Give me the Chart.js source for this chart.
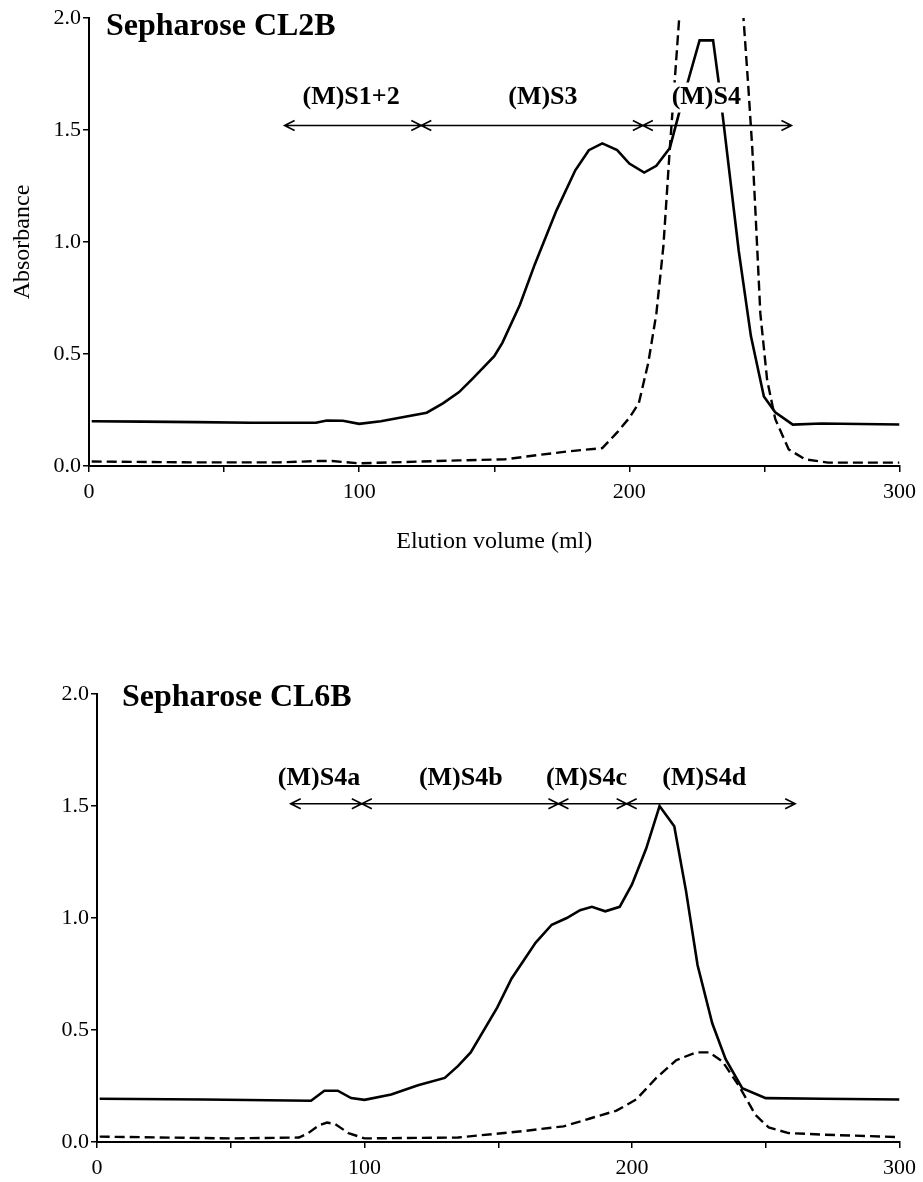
<!DOCTYPE html>
<html>
<head>
<meta charset="utf-8">
<script src="https://cdn.jsdelivr.net/npm/chart.js@4.4.1/dist/chart.umd.min.js"></script>
<style>
  body { margin: 0; background: #fff; }
  .panel { position: absolute; left: 0; }
</style>
</head>
<body>
<div class="panel" style="top:0"><canvas id="cl2bChart" width="923" height="560"></canvas></div>
<div class="panel" style="top:676px"><canvas id="cl6bChart" width="923" height="506"></canvas></div>
<script>
// Sepharose CL2B - elution volume (ml) / absorbance
const cl2bSolidVol = [1, 20, 40, 60, 84, 88, 94, 100, 108, 115, 125, 131, 137, 142, 150, 153, 159.5, 165, 173, 180, 185, 190, 195.5, 200, 205.5, 210, 215, 218.5, 222, 226, 231, 233, 234.5, 240.5, 245, 249.8, 254, 260.5, 271, 300];
const cl2bSolidAbs = [0.200, 0.198, 0.196, 0.193, 0.193, 0.203, 0.202, 0.188, 0.200, 0.215, 0.238, 0.28, 0.33, 0.39, 0.49, 0.55, 0.72, 0.90, 1.14, 1.32, 1.41, 1.44, 1.41, 1.35, 1.31, 1.34, 1.42, 1.58, 1.73, 1.90, 1.90, 1.72, 1.57, 0.96, 0.58, 0.31, 0.24, 0.185, 0.19, 0.185];
const cl2bDashVol = [1, 40, 70, 85, 90, 100, 137, 154, 167, 177, 190, 195.5, 200, 203.5, 207, 210, 212.6, 215, 216.8, 218.4, 220.2, 240.5, 244, 245.5, 246.7, 248.5, 251, 254, 259, 265, 273.5, 300];
const cl2bDashAbs = [0.02, 0.016, 0.016, 0.022, 0.022, 0.012, 0.025, 0.03, 0.05, 0.065, 0.08, 0.15, 0.215, 0.28, 0.46, 0.68, 0.98, 1.42, 1.72, 1.99, 2.3, 2.3, 1.70, 1.42, 1.13, 0.68, 0.385, 0.21, 0.074, 0.03, 0.015, 0.015];
const cl2bFractions = ['(M)S1+2', '(M)S3', '(M)S4'];
const cl2bBounds = [72.4, 123, 205, 260];
const cl2bLabelAt = [97, 168, 228.5];

// Sepharose CL6B
const cl6bSolidVol = [1, 40, 80, 85, 90, 95, 100, 110, 120, 130, 135, 139.7, 149.6, 155, 164, 170, 175.6, 180.6, 185, 190, 195.4, 200, 205.3, 210.3, 215.8, 220.2, 224.5, 230, 235, 241.2, 250, 271, 300];
const cl6bSolidAbs = [0.193, 0.19, 0.184, 0.229, 0.229, 0.196, 0.188, 0.212, 0.253, 0.286, 0.34, 0.40, 0.60, 0.73, 0.89, 0.97, 1.00, 1.035, 1.05, 1.03, 1.05, 1.15, 1.31, 1.50, 1.41, 1.12, 0.79, 0.53, 0.37, 0.24, 0.196, 0.193, 0.19];
const cl6bDashVol = [1, 50, 75.5, 79, 83, 86, 89, 94, 100, 135, 159.5, 174.4, 184.3, 194.2, 201.6, 209, 216.5, 223.9, 228.8, 233.8, 240, 246.2, 251.1, 258.5, 271, 300];
const cl6bDashAbs = [0.024, 0.016, 0.02, 0.04, 0.075, 0.087, 0.08, 0.04, 0.016, 0.02, 0.049, 0.07, 0.105, 0.14, 0.19, 0.285, 0.365, 0.40, 0.40, 0.36, 0.25, 0.12, 0.065, 0.04, 0.033, 0.022];
const cl6bFractions = ['(M)S4a', '(M)S4b', '(M)S4c', '(M)S4d'];
const cl6bBounds = [72.4, 99, 172.5, 198, 261];
const cl6bLabelAt = [83, 136, 183, 227];

const xTicks = [0, 100, 200, 300];

const serif = '"Liberation Serif", "Times New Roman", serif';

function points(vol, abs) {
    return vol.map((v, i) => ({ x: v, y: abs[i] }));
}

// column title, fraction labels and arrows
const fractionPlugin = {
    id: 'fractions',
    afterDatasetsDraw(chart, args, opts) {
        const { ctx, chartArea } = chart;
        const x = chart.scales.x, y = chart.scales.y;
        ctx.save();
        ctx.fillStyle = '#000';
        ctx.textBaseline = 'middle';
        ctx.textAlign = 'left';
        ctx.font = 'bold 32px ' + serif;
        ctx.fillText(opts.title, chartArea.left + opts.titleDx, chartArea.top + opts.titleDy);

        ctx.font = 'bold 26px ' + serif;
        ctx.textAlign = 'center';
        const ly = y.getPixelForValue(opts.labelY);
        opts.labels.forEach((t, i) => {
            const lx = x.getPixelForValue(opts.labelAt[i]);
            const w = ctx.measureText(t).width;
            ctx.fillStyle = '#fff';
            ctx.fillRect(lx - w / 2 - 3, ly - 15, w + 6, 30);
            ctx.fillStyle = '#000';
            ctx.fillText(t, lx, ly);
        });

        const ay = y.getPixelForValue(opts.arrowY);
        ctx.strokeStyle = '#000';
        ctx.lineWidth = 1.6;
        for (let i = 0; i < opts.bounds.length - 1; i++) {
            const x1 = x.getPixelForValue(opts.bounds[i]);
            const x2 = x.getPixelForValue(opts.bounds[i + 1]);
            ctx.beginPath();
            ctx.moveTo(x1, ay);
            ctx.lineTo(x2, ay);
            ctx.moveTo(x1 + 10, ay - 5);
            ctx.lineTo(x1, ay);
            ctx.lineTo(x1 + 10, ay + 5);
            ctx.moveTo(x2 - 10, ay - 5);
            ctx.lineTo(x2, ay);
            ctx.lineTo(x2 - 10, ay + 5);
            ctx.stroke();
        }
        ctx.restore();
    }
};

function makeChart(id, solid, dashed, frac, yWidth, xHeight, withTitles) {
    const ctx = document.getElementById(id).getContext('2d');
    return new Chart(ctx, {
        type: 'line',
        data: {
            datasets: [{
                data: solid,
                borderColor: '#000',
                borderWidth: 2.6,
                pointRadius: 0,
                tension: 0
            }, {
                data: dashed,
                borderColor: '#000',
                borderWidth: 2.4,
                borderDash: [10, 5],
                pointRadius: 0,
                tension: 0
            }]
        },
        options: {
            responsive: false,
            animation: false,
            layout: { padding: { top: 18, right: 18, left: 0, bottom: 0 } },
            plugins: {
                legend: { display: false },
                tooltip: { enabled: false },
                fractions: frac
            },
            scales: {
                x: {
                    type: 'linear',
                    min: 0,
                    max: 300,
                    afterFit(scale) { scale.height = xHeight; },
                    border: { display: true, color: '#000', width: 2 },
                    grid: { drawOnChartArea: false, drawTicks: true, tickLength: 6, color: '#000', lineWidth: 1.5 },
                    ticks: {
                        stepSize: 50,
                        autoSkip: false,
                        maxRotation: 0,
                        padding: 7,
                        color: '#000',
                        font: { family: serif, size: 22 },
                        callback: v => xTicks.includes(v) ? String(v) : ''
                    },
                    title: {
                        display: withTitles,
                        text: 'Elution volume (ml)',
                        color: '#000',
                        font: { family: serif, size: 24 },
                        padding: { top: 0, bottom: 4 }
                    }
                },
                y: {
                    min: 0,
                    max: 2,
                    afterFit(scale) { scale.width = yWidth; },
                    border: { display: true, color: '#000', width: 2 },
                    grid: { drawOnChartArea: false, drawTicks: true, tickLength: 6, color: '#000', lineWidth: 1.5 },
                    ticks: {
                        stepSize: 0.5,
                        padding: 2,
                        color: '#000',
                        font: { family: serif, size: 22 },
                        callback: v => v.toFixed(1)
                    },
                    title: {
                        display: withTitles,
                        text: 'Absorbance',
                        color: '#000',
                        font: { family: serif, size: 24 },
                        padding: { top: 8, bottom: 0 }
                    }
                }
            }
        },
        plugins: [fractionPlugin]
    });
}

makeChart('cl2bChart',
    points(cl2bSolidVol, cl2bSolidAbs),
    points(cl2bDashVol, cl2bDashAbs),
    { title: 'Sepharose CL2B', titleDx: 17, titleDy: 9, labels: cl2bFractions, bounds: cl2bBounds, labelAt: cl2bLabelAt, arrowY: 1.52, labelY: 1.645 },
    89, 94, true);

makeChart('cl6bChart',
    points(cl6bSolidVol, cl6bSolidAbs),
    points(cl6bDashVol, cl6bDashAbs),
    { title: 'Sepharose CL6B', titleDx: 25, titleDy: 4, labels: cl6bFractions, bounds: cl6bBounds, labelAt: cl6bLabelAt, arrowY: 1.51, labelY: 1.625 },
    97, 40, false);
</script>
</body>
</html>
